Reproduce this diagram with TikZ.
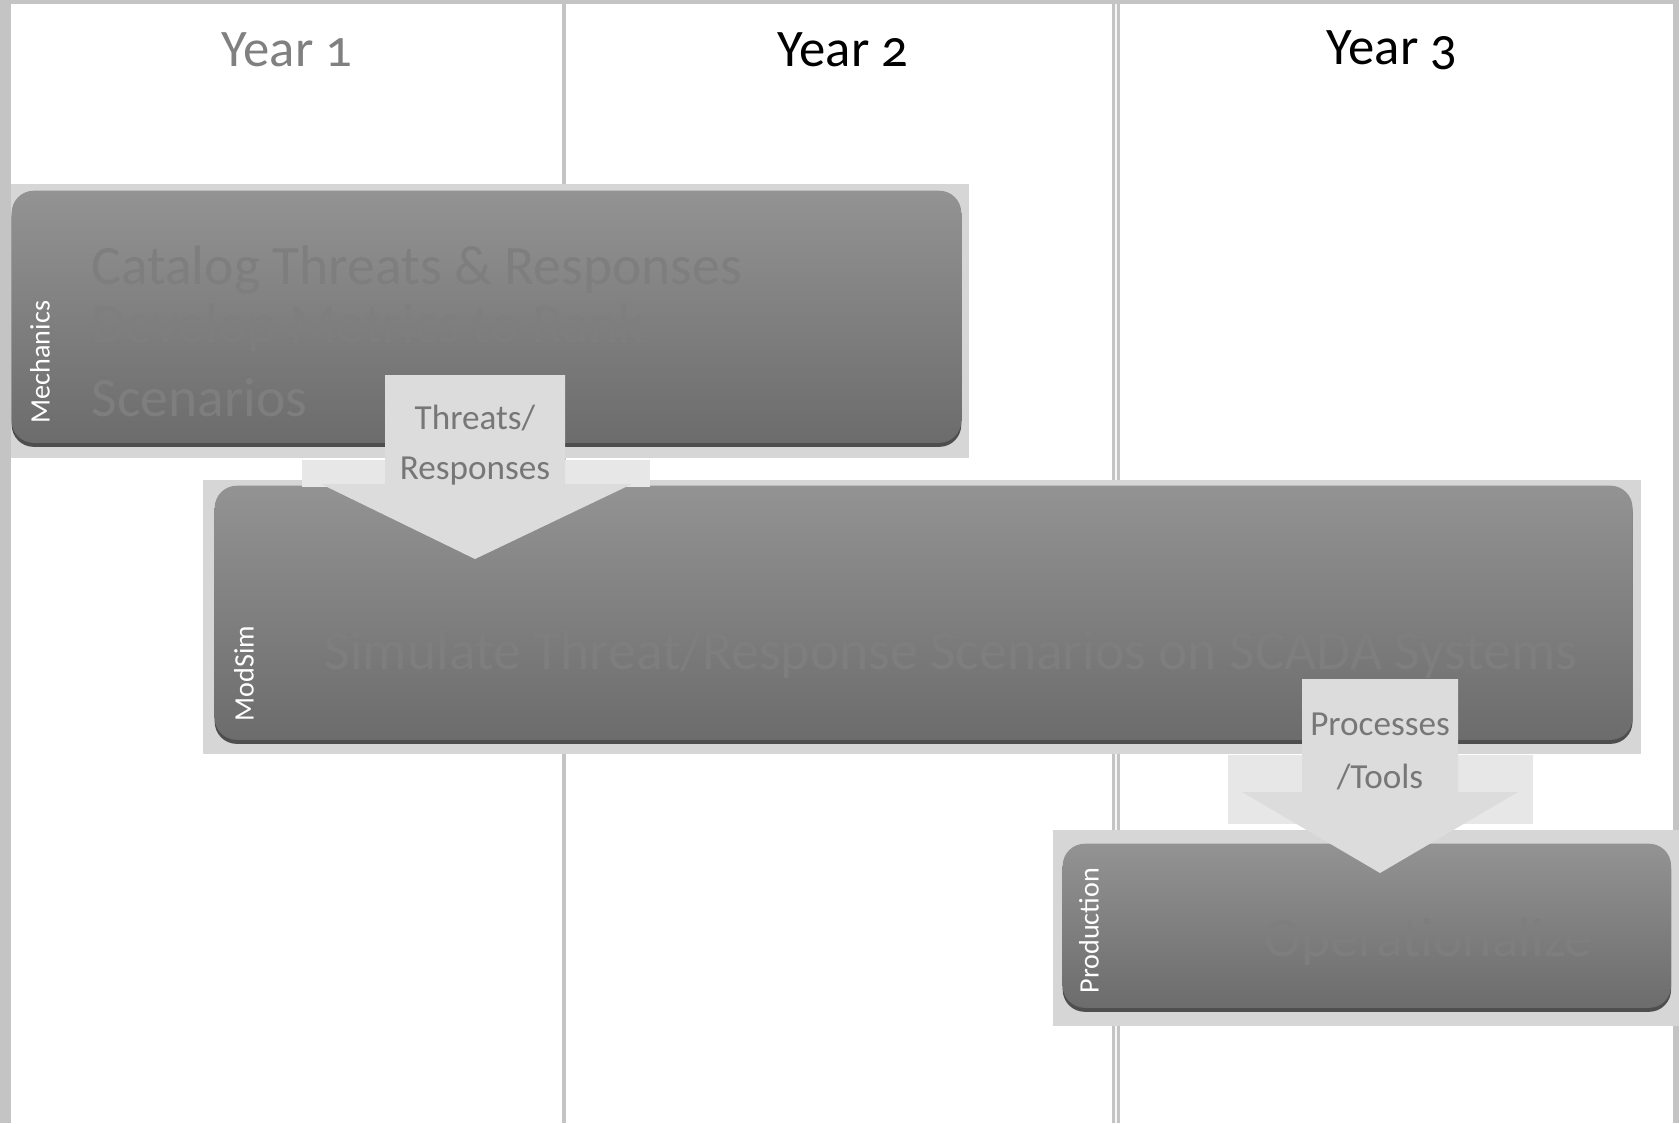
\documentclass[tikz,border=0pt]{standalone}
\usepackage{fontspec}
\setmainfont{Carlito}[Numbers=OldStyle]
\definecolor{bgray}{HTML}{C4C4C4}
\definecolor{glow}{HTML}{D6D6D6}
\definecolor{boxtop}{HTML}{939393}
\definecolor{boxbot}{HTML}{6C6C6C}
\definecolor{boxshadow}{HTML}{4E4E4E}
\definecolor{faint}{HTML}{7E7E7E}
\definecolor{arrowfill}{HTML}{DCDCDC}
\definecolor{arrowtext}{HTML}{777777}
\tikzset{
  panel/.style={fill=white, draw=none},
  glowbox/.style={fill=glow, draw=none},
  phasebox/.style={rounded corners=0.22cm, top color=boxtop, bottom color=boxbot, draw=none, inner sep=0pt, anchor=north west},
  phaseshadow/.style={rounded corners=0.22cm, fill=boxshadow, draw=none, inner sep=0pt, anchor=north west},
  header/.style={font=\fontsize{15}{18}\selectfont, inner sep=0pt},
  maintext/.style={font=\fontsize{15.8}{19}\selectfont, text=faint, anchor=west, inner sep=0pt},
  sidelabel/.style={font=\fontsize{8}{10}\selectfont, text=white, rotate=90, anchor=west, inner sep=0pt},
  bigarrow/.style={fill=arrowfill, draw=none},
  arrowlabel/.style={font=\fontsize{10}{12}\selectfont, text=arrowtext, inner sep=0pt},
}
\begin{document}
\begin{tikzpicture}[x=0.01cm, y=-0.01cm]
\useasboundingbox (0,0) rectangle (1679,1123);
% background and columns
\fill[bgray] (0,0) rectangle (1679,1123);
\fill[panel] (11,4) rectangle (562,1123);
\fill[panel] (566,4) rectangle (1112,1123);
\fill[panel] (1120,4) rectangle (1673,1123);
\fill[white!85!bgray] (1115,4) rectangle (1117,1123);
% headers
\node[header, text=gray] (y1) at (287,50) {Year 1};
\node[header, text=black] (y2) at (843,50) {Year 2};
\node[header, text=black] (y3) at (1392,50) {Year 3};

% Mechanics box
\fill[glowbox] (11,184) rectangle (969,458);
\node[phaseshadow, minimum width=9.49cm, minimum height=2.52cm] (mechs) at (11,194) {};
\node[phasebox, minimum width=9.49cm, minimum height=2.52cm] (mech) at (11,190) {};
\node[sidelabel] (mechl) at (40,424) {Mechanics};
\node[maintext] (mt1) at (91,270) {Catalog Threats \& Responses};
\node[maintext] (mt2) at (91,328) {Develop Metrics to Rank};
\node[maintext] (mt3) at (91,398) {Scenarios};

% ModSim box
\fill[glowbox] (203,480) rectangle (1641,754);
\node[phaseshadow, minimum width=14.17cm, minimum height=2.54cm] (mods) at (214,489) {};
\node[phasebox, minimum width=14.17cm, minimum height=2.54cm] (mod) at (214,485) {};
\node[sidelabel] (modl) at (244,722) {ModSim};
\node[maintext] (st) at (324,655) {Simulate Threat/Response Scenarios on SCADA Systems};

% Production box
\fill[glowbox] (1053,830) rectangle (1679,1026);
\node[phaseshadow, minimum width=6.08cm, minimum height=1.64cm] (prods) at (1062,847) {};
\node[phasebox, minimum width=6.08cm, minimum height=1.64cm] (prod) at (1062,843) {};
\node[sidelabel] (prodl) at (1089,994) {Production};
\node[maintext] (pt) at (1264,942) {Operationalize};

% Threats/Responses arrow
\fill[white!40!glow] (302,460) rectangle (650,487);
\path[bigarrow] (385,375) -- (565,375) -- (565,484) -- (632,484) -- (475,559) -- (321,484) -- (385,484) -- cycle;
\node[arrowlabel] (a1a) at (475,418) {Threats/};
\node[arrowlabel] (a1b) at (475,471) {Responses};

% Processes/Tools arrow
\fill[white!40!glow] (1228,755) rectangle (1533,824);
\path[bigarrow] (1302,679) -- (1458,679) -- (1458,792) -- (1518,792) -- (1380,873) -- (1242,792) -- (1302,792) -- cycle;
\node[arrowlabel] (a2a) at (1380,724) {Processes};
\node[arrowlabel] (a2b) at (1380,777) {/Tools};
\end{tikzpicture}
\end{document}
